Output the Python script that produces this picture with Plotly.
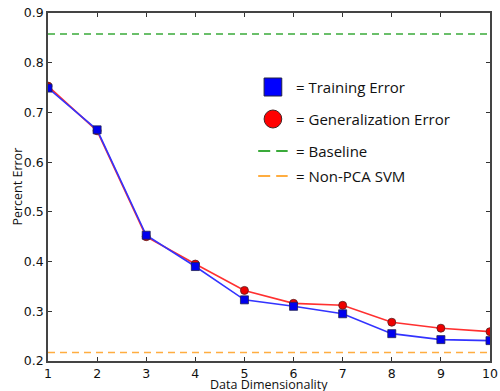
import plotly.graph_objects as go

dims = [1, 2, 3, 4, 5, 6, 7, 8, 9, 10]
training_error = [0.749, 0.665, 0.453, 0.390, 0.323, 0.310, 0.295, 0.255, 0.243, 0.241]
generalization_error = [0.753, 0.663, 0.450, 0.395, 0.342, 0.316, 0.312, 0.278, 0.266, 0.259]
baseline = 0.858
non_pca_svm = 0.217
x_ticks = [1, 2, 3, 4, 5, 6, 7, 8, 9, 10]
y_ticks = [0.2, 0.3, 0.4, 0.5, 0.6, 0.7, 0.8, 0.9]

L, R, T, B = 48, 2, 13, 30
W, H = 500, 391
pw, ph = W - L - R, H - T - B

def px(x):
    return (x - L) / pw

def py(y):
    return (H - B - y) / ph

fig = go.Figure()
fig.add_trace(go.Scatter(x=[dims[0], dims[-1]], y=[baseline, baseline], mode="lines",
                         line=dict(color="#3aaa3a", width=1.5, dash="7px,5px"), hoverinfo="skip"))
fig.add_trace(go.Scatter(x=[dims[0], dims[-1]], y=[non_pca_svm, non_pca_svm], mode="lines",
                         line=dict(color="#ffad40", width=1.5, dash="7px,5px"), hoverinfo="skip"))
fig.add_trace(go.Scatter(x=dims, y=generalization_error, mode="lines+markers",
                         line=dict(color="#ff3030", width=1.6),
                         marker=dict(symbol="circle", size=8, color="#ee0000",
                                     line=dict(color="#552222", width=0.8))))
fig.add_trace(go.Scatter(x=dims, y=training_error, mode="lines+markers",
                         line=dict(color="#3333ff", width=1.6),
                         marker=dict(symbol="square", size=8, color="#0000ee",
                                     line=dict(color="#222255", width=0.8))))

shapes = []
# legend symbols
shapes.append(dict(type="rect", xref="paper", yref="paper",
                   x0=px(268), x1=px(286), y0=py(96), y1=py(78),
                   fillcolor="#0000ff", line=dict(color="#222244", width=1)))
shapes.append(dict(type="circle", xref="paper", yref="paper",
                   x0=px(268), x1=px(286), y0=py(128), y1=py(110),
                   fillcolor="#ff0000", line=dict(color="#442222", width=1)))
shapes.append(dict(type="line", xref="paper", yref="paper",
                   x0=px(262), x1=px(292), y0=py(151), y1=py(151),
                   line=dict(color="#3aaa3a", width=1.8, dash="12px,6px")))
shapes.append(dict(type="line", xref="paper", yref="paper",
                   x0=px(262), x1=px(292), y0=py(176), y1=py(176),
                   line=dict(color="#ffad40", width=1.8, dash="12px,6px")))

legend_texts = [("= Training Error", 87), ("= Generalization Error", 119),
                ("= Baseline", 151), ("= Non-PCA SVM", 176)]
annotations = []
for txt, yy in legend_texts:
    annotations.append(dict(text=txt, xref="paper", yref="paper", x=px(298), y=py(yy),
                            xanchor="left", yanchor="middle", showarrow=False,
                            font=dict(family="Open Sans", size=15, color="#111111")))
# axis titles
annotations.append(dict(text="Percent Error", xref="paper", yref="paper", x=px(16), y=0.5,
                        xanchor="center", yanchor="middle", textangle=-90, showarrow=False,
                        font=dict(family="Open Sans", size=12.5, color="#111111")))
annotations.append(dict(text="Data Dimensionality", xref="paper", yref="paper", x=0.499, y=py(384.5),
                        xanchor="center", yanchor="middle", showarrow=False,
                        font=dict(family="Open Sans", size=12.5, color="#111111")))

axis_common = dict(showgrid=False, zeroline=False, ticks="inside", ticklen=4,
                   tickwidth=1, tickcolor="#333333", showline=True, linecolor="#444444",
                   linewidth=1.5, mirror="ticks", ticklabeloverflow="allow",
                   tickfont=dict(family="DejaVu Sans", size=12.5, color="#111111"))

fig.update_layout(
    width=W, height=H,
    margin=dict(l=L, r=R, t=T, b=B),
    paper_bgcolor="white", plot_bgcolor="white",
    showlegend=False,
    shapes=shapes, annotations=annotations,
    xaxis=dict(range=[1, 10], tickvals=x_ticks, ticktext=[str(v) for v in x_ticks],
               **axis_common),
    yaxis=dict(range=[0.2, 0.9], tickvals=y_ticks, ticktext=[f"{v:.1f}" for v in y_ticks],
               **axis_common),
)

fig.write_html("out.html")
